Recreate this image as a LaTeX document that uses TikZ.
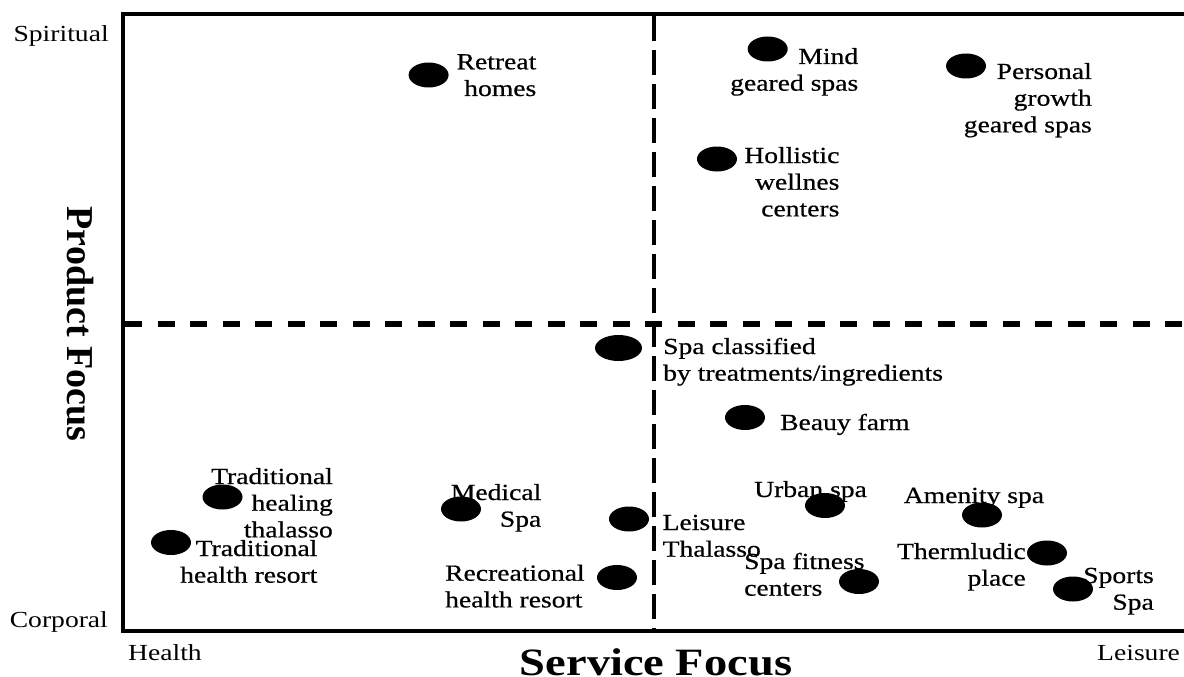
\documentclass[tikz,border=0pt]{standalone}
\usepackage{fontspec}
\setmainfont{Liberation Serif}[FakeStretch=1.2]
\newfontfamily\plainserif{Liberation Serif}
\newfontfamily\heavyserif{Liberation Serif}[FakeStretch=1.2,FakeBold=0.6]
\usetikzlibrary{shapes.geometric}
\newcommand\lbl[2]{\begin{tabular}[t]{@{}#1@{}}#2\end{tabular}}
\begin{document}
\begin{tikzpicture}[x=1pt,y=-1pt,
  dot/.style={ellipse,fill=black,minimum width=40pt,minimum height=25pt,inner sep=0pt},
  axlab/.style={inner sep=0pt,anchor=base west,font=\fontsize{23}{26.7}\selectfont},
  lab/.style={inner sep=0pt,font=\heavyserif\fontsize{23}{26.7}\selectfont},
  labr/.style={lab,anchor=base east},
  labl/.style={lab,anchor=base west},
  frame/.style={line width=4.5pt,line join=miter},
  vdash/.style={line width=4.5pt,dash pattern=on 25pt off 9pt},
  hdash/.style={line width=5.5pt,dash pattern=on 17pt off 15.5pt}]
\useasboundingbox (0,0) rectangle (1184,677);
% quadrant dividers
\draw[vdash] (654,16) -- (654,631);
\draw[hdash] (125,324) -- (1184,324);
% frame
\draw[frame] (1184,14) -- (123,14) -- (123,631) -- (1184,631);
% axis end labels
\node[axlab] (spiritual) at (13.4,41.7) {Spiritual};
\node[axlab] (corporal) at (9.6,627.7) {Corporal};
\node[axlab] (health) at (128,660) {Health};
\node[axlab] (leisureax) at (1097,660) {Leisure};
\node[inner sep=0pt,anchor=base,font=\fontsize{38.7}{40}\selectfont\bfseries] (service) at (656,675) {Service Focus};
\node[inner sep=0pt,anchor=base,rotate=-90,font=\plainserif\fontsize{38}{40}\selectfont\bfseries] (product) at (67,324) {Product Focus};
% dots
\node[dot] (retreat) at (428.6,75) {};
\node[dot] (mind) at (767.7,49) {};
\node[dot] (personal) at (966,66) {};
\node[dot] (hollistic) at (717,159) {};
\node[dot,minimum width=47pt,minimum height=26pt] (spacl) at (618.5,348) {};
\node[dot] (beauy) at (745,417.5) {};
\node[dot] (urban) at (825,505.5) {};
\node[dot] (leisure) at (629,519) {};
\node[dot] (amenity) at (982,515) {};
\node[dot] (thermludic) at (1047,553) {};
\node[dot] (fitness) at (859,581.5) {};
\node[dot] (sports) at (1073,589) {};
\node[dot] (recreational) at (617,577.5) {};
\node[dot] (tradheal) at (222.5,497) {};
\node[dot] (tradhealth) at (171,542.5) {};
\node[dot] (medical) at (461,509) {};
% labels
\node[labr] (retreatT) at (536.5,69.3) {\lbl{r}{Retreat\\homes}};
\node[labr] (mindT) at (858.4,64) {\lbl{r}{Mind\\geared spas}};
\node[labr] (personalT) at (1092,79) {\lbl{r}{Personal\\growth\\geared spas}};
\node[labr] (hollisticT) at (839.6,163) {\lbl{r}{Hollistic\\wellnes\\centers}};
\node[labl] (spaclT) at (663,354) {\lbl{l}{Spa classified\\by treatments/ingredients}};
\node[labl] (beauyT) at (780,430) {Beauy farm};
\node[labr] (tradhealT) at (333,484) {\lbl{r}{Traditional\\healing\\thalasso}};
\node[labr] (tradhealthT) at (317.6,556) {\lbl{r}{Traditional\\health resort}};
\node[labr] (medicalT) at (541.5,500) {\lbl{r}{Medical\\Spa}};
\node[labl] (recreationalT) at (445,580.7) {\lbl{l}{Recreational\\health resort}};
\node[labl] (leisureT) at (662.5,530) {\lbl{l}{Leisure\\Thalasso}};
\node[labl] (urbanT) at (754,497) {Urban spa};
\node[labl] (amenityT) at (903.6,503) {Amenity spa};
\node[labr] (thermludicT) at (1026,559) {\lbl{r}{Thermludic\\place}};
\node[labl] (fitnessT) at (744,569) {\lbl{l}{Spa fitness\\centers}};
\node[labr] (sportsT) at (1154,583) {\lbl{r}{Sports\\Spa}};
\end{tikzpicture}
\end{document}
